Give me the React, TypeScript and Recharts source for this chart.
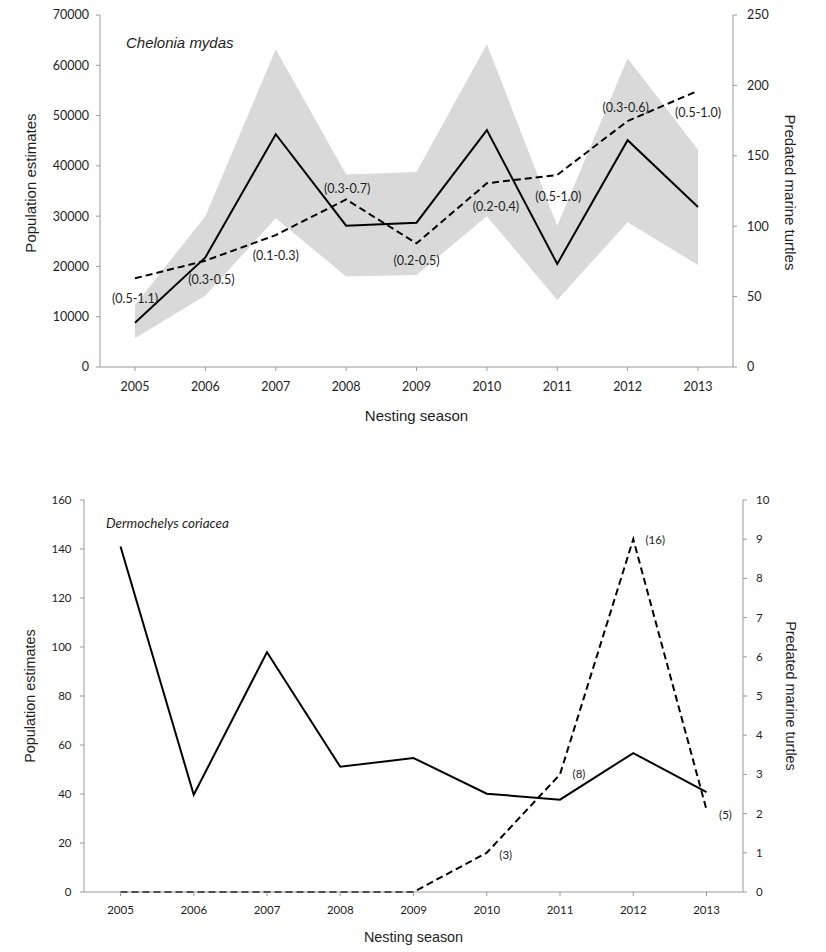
import React from 'react';
import { ComposedChart, Line, Area, XAxis, YAxis, Label } from 'recharts';

const seasons = ['2005', '2006', '2007', '2008', '2009', '2010', '2011', '2012', '2013'];

// Chelonia mydas
const cmPopulation = [8800, 21800, 46300, 28100, 28700, 47100, 20500, 45100, 31800];
const cmLower = [5700, 14200, 29600, 18000, 18300, 30000, 13300, 28800, 20300];
const cmUpper = [12300, 30000, 63200, 38300, 38800, 64200, 28100, 61400, 43200];
const cmPredated = [63, 75.5, 93.7, 119, 87.8, 130.5, 136.4, 174.7, 196.2];
const cmLabels = ['(0.5-1.1)', '(0.3-0.5)', '(0.1-0.3)', '(0.3-0.7)', '(0.2-0.5)', '(0.2-0.4)', '(0.5-1.0)', '(0.3-0.6)', '(0.5-1.0)'];
const cmLeftTicks = [0, 10000, 20000, 30000, 40000, 50000, 60000, 70000];
const cmRightTicks = [0, 50, 100, 150, 200, 250];

// Dermochelys coriacea
const dcPopulation = [141, 39.7, 97.9, 51.1, 54.7, 40.1, 37.7, 56.7, 40.8];
const dcPredated = [0, 0, 0, 0, 0, 1, 3, 9, 2.1];
const dcLabels = ['', '', '', '', '', '(3)', '(8)', '(16)', '(5)'];
const dcLeftTicks = [0, 20, 40, 60, 80, 100, 120, 140, 160];
const dcRightTicks = [0, 1, 2, 3, 4, 5, 6, 7, 8, 9, 10];

// label placement offsets (styling, relative to each dashed point)
const cmLabelOffsets = [[0, 20], [6, 19], [0, 21], [1, -11], [0, 17], [9, 23], [1, 22], [-2, -13], [0, 22]];
const dcLabelOffsets = [[0, 0], [0, 0], [0, 0], [0, 0], [0, 0], [19, 2], [19, 0], [22, 1], [19, 5]];

const cmData = seasons.map((s, i) => ({
  season: s,
  population: cmPopulation[i],
  band: [cmLower[i], cmUpper[i]],
  predated: cmPredated[i],
}));

const dcData = seasons.map((s, i) => ({
  season: s,
  population: dcPopulation[i],
  predated: dcPredated[i],
}));

const AXIS = '#999999';
const TEXT = '#1e1e1e';
const NUMFONT = 'Lato, "Open Sans", sans-serif';
const TITLEFONT = '"Liberation Sans", Arial, sans-serif';

const makeVerticalTitle = (text: string, dx: number, dy: number, angle: number, size: number) =>
  (props: any) => {
    const vb = props.viewBox || {};
    const cx = vb.x + dx;
    const cy = vb.y + vb.height / 2 + dy;
    return (
      <text
        x={cx}
        y={cy}
        transform={`rotate(${angle}, ${cx}, ${cy})`}
        textAnchor="middle"
        dy="0.35em"
        fontFamily={TITLEFONT}
        fontSize={size}
        fill={TEXT}
      >
        {text}
      </text>
    );
  };

const makePointLabel = (labels: string[], offsets: number[][], size: number) => (props: any) => {
  const { x, y, index } = props;
  const t = labels[index];
  if (!t) return null;
  const [dx, dy] = offsets[index];
  return (
    <text
      key={`lbl-${index}`}
      x={x + dx}
      y={y + dy}
      dy="0.35em"
      textAnchor="middle"
      fontFamily={NUMFONT}
      fontSize={size}
      fill={TEXT}
    >
      {t}
    </text>
  );
};

export default function App() {
  return (
    <div style={{ position: 'absolute', left: 0, top: 0, width: 826, height: 952, background: '#fff' }}>
      <div style={{ position: 'absolute', left: 0, top: 0 }}>
        <ComposedChart width={826} height={430} data={cmData} margin={{ top: 15, right: 0, bottom: 0, left: 0 }}>
          <XAxis
            dataKey="season"
            height={63}
            padding={{ left: 35, right: 35 }}
            stroke={AXIS}
            tickSize={4}
            tickMargin={11}
            tick={{ fill: TEXT, fontSize: 12.5, fontFamily: NUMFONT }}
          >
            <Label
              value="Nesting season"
              position="insideBottom"
              offset={9}
              style={{ fontFamily: TITLEFONT, fontSize: 15, fill: TEXT }}
            />
          </XAxis>
          <YAxis
            yAxisId="left"
            width={100}
            domain={[0, 70000]}
            ticks={cmLeftTicks}
            interval={0}
            stroke={AXIS}
            tickSize={4}
            tickMargin={7}
            tick={{ fill: TEXT, fontSize: 12.5, fontFamily: NUMFONT }}
          >
            <Label content={makeVerticalTitle('Population estimates', 31, -8, -90, 15)} />
          </YAxis>
          <YAxis
            yAxisId="right"
            orientation="right"
            width={93}
            domain={[0, 250]}
            ticks={cmRightTicks}
            interval={0}
            stroke={AXIS}
            tickSize={4}
            tickMargin={10}
            tick={{ fill: TEXT, fontSize: 12.5, fontFamily: NUMFONT }}
          >
            <Label content={makeVerticalTitle('Predated marine turtles', 57, 1.5, 90, 15)} />
          </YAxis>
          <Area
            yAxisId="left"
            type="linear"
            dataKey="band"
            fill="#d9d9d9"
            fillOpacity={1}
            stroke="none"
            isAnimationActive={false}
            activeDot={false}
          />
          <Line
            yAxisId="left"
            type="linear"
            dataKey="population"
            stroke="#000"
            strokeWidth={2}
            dot={false}
            activeDot={false}
            isAnimationActive={false}
          />
          <Line
            yAxisId="right"
            type="linear"
            dataKey="predated"
            stroke="#000"
            strokeWidth={2}
            strokeDasharray="7 4"
            dot={false}
            activeDot={false}
            isAnimationActive={false}
            label={makePointLabel(cmLabels, cmLabelOffsets, 12.5)}
          />
        </ComposedChart>
      </div>

      <div style={{ position: 'absolute', left: 0, top: 470 }}>
        <ComposedChart width={826} height={482} data={dcData} margin={{ top: 30, right: 0, bottom: 0, left: 0 }}>
          <XAxis
            dataKey="season"
            height={60}
            padding={{ left: 36.5, right: 36.5 }}
            stroke={AXIS}
            tickSize={4}
            tickMargin={10}
            tick={{ fill: TEXT, fontSize: 11.5, fontFamily: NUMFONT }}
          >
            <Label
              value="Nesting season"
              position="insideBottom"
              offset={10}
              style={{ fontFamily: TITLEFONT, fontSize: 14.4, fill: TEXT }}
            />
          </XAxis>
          <YAxis
            yAxisId="left"
            width={84}
            domain={[0, 160]}
            ticks={dcLeftTicks}
            interval={0}
            stroke={AXIS}
            tickSize={4}
            tickMargin={8.5}
            tick={{ fill: TEXT, fontSize: 11.5, fontFamily: NUMFONT }}
          >
            <Label content={makeVerticalTitle('Population estimates', 29.5, 0, -90, 14.4)} />
          </YAxis>
          <YAxis
            yAxisId="right"
            orientation="right"
            width={83}
            domain={[0, 10]}
            ticks={dcRightTicks}
            interval={0}
            stroke={AXIS}
            tickSize={4}
            tickMargin={9}
            tick={{ fill: TEXT, fontSize: 11.5, fontFamily: NUMFONT }}
          >
            <Label content={makeVerticalTitle('Predated marine turtles', 48, 0, 90, 14.4)} />
          </YAxis>
          <Line
            yAxisId="left"
            type="linear"
            dataKey="population"
            stroke="#000"
            strokeWidth={2}
            dot={false}
            activeDot={false}
            isAnimationActive={false}
          />
          <Line
            yAxisId="right"
            type="linear"
            dataKey="predated"
            stroke="#000"
            strokeWidth={2}
            strokeDasharray="7 4"
            dot={false}
            activeDot={false}
            isAnimationActive={false}
            label={makePointLabel(dcLabels, dcLabelOffsets, 11.5)}
          />
        </ComposedChart>
      </div>

      <svg width={826} height={952} style={{ position: 'absolute', left: 0, top: 0, pointerEvents: 'none' }}>
        <text x={126} y={48} fontFamily={TITLEFONT} fontStyle="italic" fontSize={15} fill={TEXT}>
          Chelonia mydas
        </text>
        <text x={106} y={528} fontFamily={NUMFONT} fontStyle="italic" fontSize={13.5} fill={TEXT}>
          Dermochelys coriacea
        </text>
      </svg>
    </div>
  );
}
